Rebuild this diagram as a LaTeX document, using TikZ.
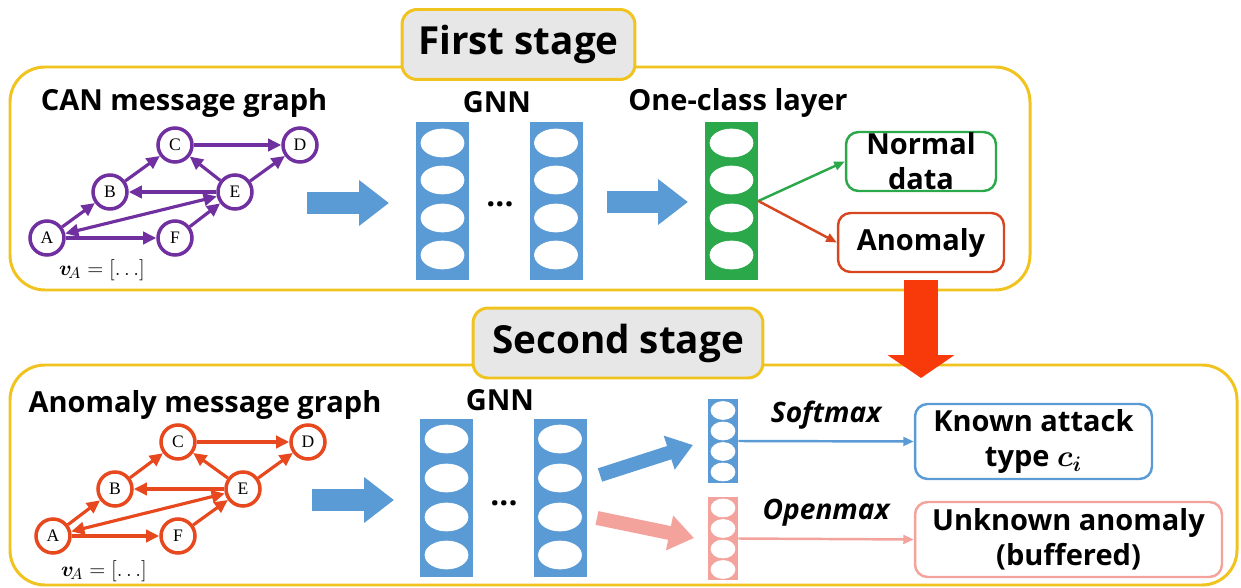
\documentclass[tikz,border=0pt]{standalone}
\usepackage{fontspec}
\setmainfont{Open Sans}
\newfontfamily\lettersfont{Liberation Serif}
\usepackage{bm}
\usetikzlibrary{arrows.meta}
\definecolor{stageyellow}{RGB}{240,195,30}
\definecolor{titlegray}{RGB}{231,231,231}
\definecolor{graphpurple}{RGB}{112,48,160}
\definecolor{graphred}{RGB}{232,72,30}
\definecolor{gnnblue}{RGB}{91,155,213}
\definecolor{occgreen}{RGB}{43,168,74}
\definecolor{anomred}{RGB}{215,70,30}
\definecolor{downred}{RGB}{248,58,10}
\definecolor{openpink}{RGB}{244,162,156}

\begin{document}
\begin{tikzpicture}[x=0.02cm, y=-0.02cm,
	stagebox/.style={draw=stageyellow, line width=1.7pt, rounded corners=0.7cm},
	stagetitle/.style={draw=stageyellow, fill=titlegray, line width=1.7pt, rounded corners=0.3cm, minimum height=1.4cm, inner sep=0pt, font=\bfseries\fontsize{22}{26}\selectfont},
	heading/.style={font=\bfseries\fontsize{16.5}{19}\selectfont},
	gnode/.style={circle, draw=#1, line width=2pt, fill=white, minimum size=0.68cm, inner sep=0pt, font=\lettersfont\fontsize{10}{12}\selectfont},
	gedge/.style={#1, line width=1.8pt, -{Triangle[length=7.5pt,width=7pt]}},
	gboth/.style={#1, line width=1.8pt, {Triangle[length=7.5pt,width=7pt]}-{Triangle[length=7.5pt,width=7pt]}},
	veclabel/.style={inner sep=0pt, font=\fontsize{12.5}{14}\selectfont},
	layer/.style={fill=#1, inner sep=0pt, minimum width=1.06cm, minimum height=3.16cm},
	minilayer/.style={fill=#1, inner sep=0pt, minimum width=0.6cm, minimum height=1.68cm},
	outbox/.style={draw=#1, line width=1.4pt, rounded corners=0.25cm, inner sep=0pt, align=center, font=\bfseries\fontsize{16.5}{20}\selectfont},
	thinarrow/.style={#1, line width=1.4pt, -{Triangle[length=6pt,width=5pt]}},
	fatarrow/.style={gnnblue, line width=0.44cm, -{Triangle[length=0.6cm,width=0.88cm]}},
	slantarrow/.style={#1, line width=0.28cm, -{Triangle[length=0.5cm,width=0.68cm]}},
	]
	\useasboundingbox (0,0) rectangle (1241,588);
	% Draw stage frames
	\draw [stagebox] (10,67) rectangle (1030,290);
	\draw [stagebox] (10,365) rectangle (1237,585);
	\node [stagetitle, minimum width=4.66cm] (title1) at (518.5,44.5) {First stage};
	\node [stagetitle, minimum width=5.8cm] (title2) at (618,343) {Second stage};

	% First stage: CAN message graph
	\node [heading] (canlbl) at (184,103) {CAN message graph};
	\node [gnode=graphpurple] (cA) at (47,238) {A};
	\node [gnode=graphpurple] (cB) at (110,192) {B};
	\node [gnode=graphpurple] (cC) at (175,145) {C};
	\node [gnode=graphpurple] (cD) at (300,145) {D};
	\node [gnode=graphpurple] (cE) at (235,192) {E};
	\node [gnode=graphpurple] (cF) at (175,238) {F};
	\draw [gedge=graphpurple] (cA) -- (cB);
	\draw [gedge=graphpurple] (cB) -- (cC);
	\draw [gedge=graphpurple] (cC) -- (cD);
	\draw [gedge=graphpurple] (cE) -- (cC);
	\draw [gedge=graphpurple] (cE) -- (cB);
	\draw [gedge=graphpurple] (cE) -- (cD);
	\draw [gedge=graphpurple] (cA) -- (cF);
	\draw [gedge=graphpurple] (cF) -- (cE);
	\draw [gboth=graphpurple] (cA) -- (cE);
	\node [veclabel] (cvec) at (102,270) {$\bm{v}_{\!A}=[\ldots]$};

	% First stage: GNN and one-class layer
	\coordinate (fa1s) at (307,203);
	\coordinate (fa1e) at (389,203);
	\draw [fatarrow] (fa1s) -- (fa1e);
	\node [heading] (gnnlbl1) at (497,102) {GNN};
	\node [layer=gnnblue] (gnnA) at (442.5,201) {};
	\node [layer=gnnblue] (gnnB) at (556,201) {};
	\draw [white, fill=white] (442.5,143) ellipse [x radius=0.43cm, y radius=0.28cm];
	\draw [white, fill=white] (442.5,180) ellipse [x radius=0.43cm, y radius=0.28cm];
	\draw [white, fill=white] (442.5,218) ellipse [x radius=0.43cm, y radius=0.28cm];
	\draw [white, fill=white] (442.5,255) ellipse [x radius=0.43cm, y radius=0.28cm];
	\draw [white, fill=white] (556,143) ellipse [x radius=0.43cm, y radius=0.28cm];
	\draw [white, fill=white] (556,180) ellipse [x radius=0.43cm, y radius=0.28cm];
	\draw [white, fill=white] (556,218) ellipse [x radius=0.43cm, y radius=0.28cm];
	\draw [white, fill=white] (556,255) ellipse [x radius=0.43cm, y radius=0.28cm];
	\node (dots1) at (500,204) {\bfseries\fontsize{18}{18}\selectfont ...};
	\coordinate (fa2s) at (607,202);
	\coordinate (fa2e) at (688,202);
	\draw [fatarrow] (fa2s) -- (fa2e);
	\node [heading] (occlbl) at (738,103) {One-class layer};
	\node [layer=occgreen] (occ) at (731.5,201) {};
	\draw [white, fill=white] (731.5,143) ellipse [x radius=0.43cm, y radius=0.28cm];
	\draw [white, fill=white] (731.5,180) ellipse [x radius=0.43cm, y radius=0.28cm];
	\draw [white, fill=white] (731.5,218) ellipse [x radius=0.43cm, y radius=0.28cm];
	\draw [white, fill=white] (731.5,255) ellipse [x radius=0.43cm, y radius=0.28cm];
	\node [outbox=occgreen, minimum width=3cm, minimum height=1.18cm] (normal) at (921,161.5) {Normal\\data};
	\node [outbox=anomred, minimum width=3.32cm, minimum height=1.18cm] (anomaly) at (921,242.5) {Anomaly};
	\draw [thinarrow=occgreen] (occ.east) -- (normal.west);
	\draw [thinarrow=anomred] (occ.east) -- (anomaly.west);

	% Anomalies go on to the second stage
	\coordinate (downs) at (921,280);
	\coordinate (downe) at (921,378);
	\draw [downred, line width=0.68cm, -{Triangle[length=0.46cm,width=1.32cm]}] (downs) -- (downe);

	% Second stage: anomaly message graph
	\node [heading] (anolbl) at (205,405) {Anomaly message graph};
	\node [gnode=graphred] (aA) at (53,536) {A};
	\node [gnode=graphred] (aB) at (115,489) {B};
	\node [gnode=graphred] (aC) at (178,442) {C};
	\node [gnode=graphred] (aD) at (308,442) {D};
	\node [gnode=graphred] (aE) at (243,489) {E};
	\node [gnode=graphred] (aF) at (178,536) {F};
	\draw [gedge=graphred] (aA) -- (aB);
	\draw [gedge=graphred] (aB) -- (aC);
	\draw [gedge=graphred] (aC) -- (aD);
	\draw [gedge=graphred] (aE) -- (aC);
	\draw [gedge=graphred] (aE) -- (aB);
	\draw [gedge=graphred] (aE) -- (aD);
	\draw [gedge=graphred] (aA) -- (aF);
	\draw [gedge=graphred] (aF) -- (aE);
	\draw [gboth=graphred] (aA) -- (aE);
	\node [veclabel] (avec) at (104,571) {$\bm{v}_{\!A}=[\ldots]$};

	% Second stage: GNN and the two heads
	\coordinate (sa1s) at (312,500);
	\coordinate (sa1e) at (394,500);
	\draw [fatarrow] (sa1s) -- (sa1e);
	\node [heading] (gnnlbl2) at (500,400) {GNN};
	\node [layer=gnnblue] (gnnC) at (446.5,498) {};
	\node [layer=gnnblue] (gnnD) at (560,498) {};
	\draw [white, fill=white] (446.5,439) ellipse [x radius=0.43cm, y radius=0.28cm];
	\draw [white, fill=white] (446.5,478) ellipse [x radius=0.43cm, y radius=0.28cm];
	\draw [white, fill=white] (446.5,517) ellipse [x radius=0.43cm, y radius=0.28cm];
	\draw [white, fill=white] (446.5,555) ellipse [x radius=0.43cm, y radius=0.28cm];
	\draw [white, fill=white] (560,439) ellipse [x radius=0.43cm, y radius=0.28cm];
	\draw [white, fill=white] (560,478) ellipse [x radius=0.43cm, y radius=0.28cm];
	\draw [white, fill=white] (560,517) ellipse [x radius=0.43cm, y radius=0.28cm];
	\draw [white, fill=white] (560,555) ellipse [x radius=0.43cm, y radius=0.28cm];
	\node (dots2) at (504,503) {\bfseries\fontsize{18}{18}\selectfont ...};
	\coordinate (sbs) at (600,475);
	\coordinate (sbe) at (693,445);
	\draw [slantarrow=gnnblue] (sbs) -- (sbe);
	\coordinate (sps) at (597,518);
	\coordinate (spe) at (694,538);
	\draw [slantarrow=openpink] (sps) -- (spe);
	\node [minilayer=gnnblue] (soft) at (723,441) {};
	\node [minilayer=openpink] (open) at (723,538.5) {};
	\draw [white, fill=white] (723,410.5) ellipse [x radius=0.24cm, y radius=0.18cm];
	\draw [white, fill=white] (723,431) ellipse [x radius=0.24cm, y radius=0.18cm];
	\draw [white, fill=white] (723,451.5) ellipse [x radius=0.24cm, y radius=0.18cm];
	\draw [white, fill=white] (723,472) ellipse [x radius=0.24cm, y radius=0.18cm];
	\draw [white, fill=white] (723,508) ellipse [x radius=0.24cm, y radius=0.18cm];
	\draw [white, fill=white] (723,528.5) ellipse [x radius=0.24cm, y radius=0.18cm];
	\draw [white, fill=white] (723,549) ellipse [x radius=0.24cm, y radius=0.18cm];
	\draw [white, fill=white] (723,569.5) ellipse [x radius=0.24cm, y radius=0.18cm];
	\node [outbox=gnnblue, minimum width=4.74cm, minimum height=1.5cm] (known) at (1033.5,441.5) {Known attack\\type $\bm{c_i}$};
	\node [outbox=openpink, minimum width=6.14cm, minimum height=1.5cm] (unknown) at (1068.5,539.5) {Unknown anomaly\\(buffered)};
	\draw [thinarrow=gnnblue] (soft.east) -- node [above=3pt, black, font=\bfseries\itshape\fontsize{16}{18}\selectfont] (softlbl) {Softmax} (known.west);
	\draw [thinarrow=openpink] (open.east) -- node [above=3pt, black, font=\bfseries\itshape\fontsize{16}{18}\selectfont] (openlbl) {Openmax} (unknown.west);
\end{tikzpicture}
\end{document}
